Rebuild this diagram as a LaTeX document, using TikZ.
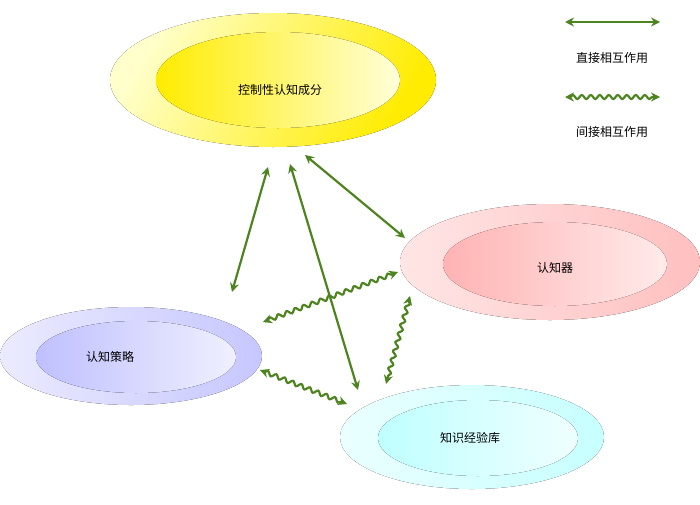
\documentclass[tikz,border=0pt]{standalone}
\usepackage{fontspec}
\setmainfont{Noto Sans CJK SC}
\usetikzlibrary{arrows.meta,decorations.pathmorphing,shapes.geometric}
\definecolor{ag}{HTML}{4E8420}
\tikzset{
 outer/.style={ellipse,minimum width=#1},
 lbl/.style={font=\fontsize{12}{14}\selectfont},
 dir/.style={ag,line width=2.2pt,{Stealth[length=9pt,width=9pt]}-{Stealth[length=9pt,width=9pt]}},
 ind/.style={dir,decorate,decoration={snake,amplitude=2pt,segment length=9pt,pre length=5pt,post length=5pt}}
}
\begin{document}
\begin{tikzpicture}[x=1pt,y=-1pt]
\useasboundingbox (0,0) rectangle (700,504);
% yellow
\fill[left color=yellow!20!white,right color=yellow!85!orange,shading angle=60] (273,80) ellipse (163 and 67);
\fill[left color=yellow!85!orange,right color=yellow!15!white] (278,80) ellipse (122 and 48);
\node[lbl] (ctrl) at (280,90) {控制性认知成分};
% pink
\fill[left color=red!10!white,right color=red!25!white] (550,262) ellipse (150 and 58);
\fill[left color=red!30!white,right color=red!8!white] (555,264) ellipse (112 and 42);
\node[lbl] (dev) at (555,268) {认知器};
% blue
\fill[left color=blue!8!white,right color=blue!22!white] (131,356) ellipse (131 and 49);
\fill[left color=blue!25!white,right color=blue!6!white] (136,357) ellipse (100 and 36);
\node[lbl] (str) at (110,357) {认知策略};
% cyan
\fill[left color=cyan!8!white,right color=cyan!22!white] (472,437) ellipse (132 and 52);
\fill[left color=cyan!25!white,right color=cyan!6!white] (478,438) ellipse (100 and 38);
\node[lbl] (kb) at (470,438) {知识经验库};
% connector endpoints
\coordinate (a1) at (268,167); \coordinate (a2) at (232,292);
\coordinate (b1) at (290,164); \coordinate (b2) at (358,390);
\coordinate (c1) at (305,155); \coordinate (c2) at (405,238);
\coordinate (d1) at (263,322); \coordinate (d2) at (398,272);
\coordinate (e1) at (260,370); \coordinate (e2) at (347,404);
\coordinate (f1) at (410,296); \coordinate (f2) at (386,384);
\draw[dir] (a1) -- (a2);
\draw[dir] (b1) -- (b2);
\draw[dir] (c1) -- (c2);
\draw[ind] (d1) -- (d2);
\draw[ind] (e1) -- (e2);
\draw[ind] (f1) -- (f2);
% legend
\coordinate (l1) at (565,22); \coordinate (l2) at (660,22);
\coordinate (m1) at (565,97); \coordinate (m2) at (660,97);
\draw[dir] (l1) -- (l2);
\draw[ind] (m1) -- (m2);
\node[lbl] (lt1) at (612,58) {直接相互作用};
\node[lbl] (lt2) at (612,132) {间接相互作用};
\end{tikzpicture}
\end{document}
